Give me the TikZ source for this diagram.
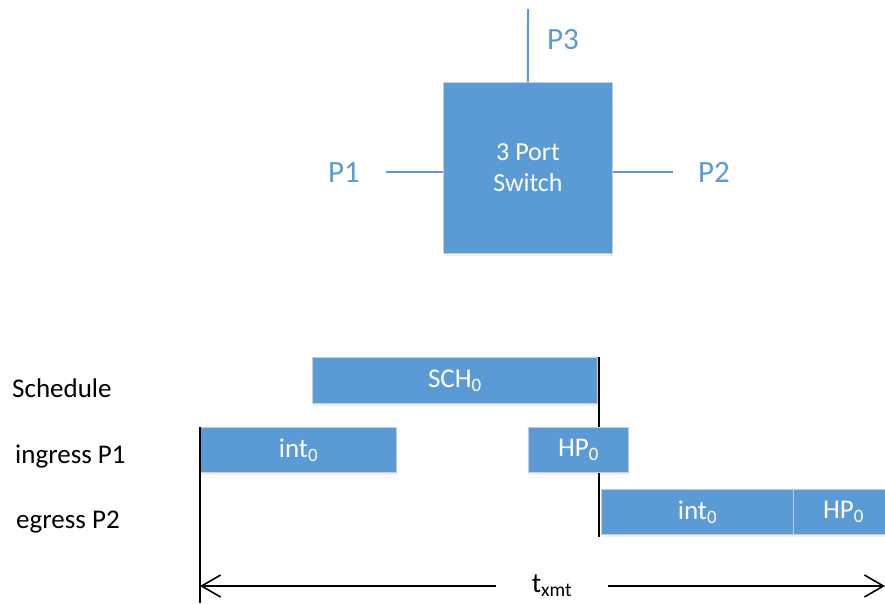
\documentclass[tikz,border=0pt]{standalone}
\usepackage{fontspec}
\setmainfont{Carlito}
\usetikzlibrary{positioning,arrows.meta,shadows}
\definecolor{swblue}{HTML}{5B9BD5}
\definecolor{rim}{HTML}{C8CDD3}
\tikzset{
  blk/.style    ={draw=rim, fill=swblue, line width=0.9pt, text=white, anchor=north west,
                  inner sep=0pt, font=\fontsize{27}{30}\selectfont,
                  drop shadow={opacity=0.12,shadow xshift=1pt,shadow yshift=-2.5pt}},
  switchbox/.style={blk, align=center, font=\fontsize{26}{31}\selectfont},
  port/.style   ={draw=swblue, line width=2pt},
  portlbl/.style={text=swblue, anchor=base west, inner sep=0pt, font=\fontsize{31}{34}\selectfont},
  rowlbl/.style ={anchor=base west, inner sep=0pt, font=\fontsize{27}{30}\selectfont},
  tick/.style   ={line width=1.6pt},
  spanarr/.style={line width=1.6pt, -{Straight Barb[length=19pt,width=22pt,line width=1.6pt]}},
}

\begin{document}
\begin{tikzpicture}[x=1pt,y=-1pt]
\useasboundingbox (0,0) rectangle (885,603);
% switch with its three ports
\node[switchbox, minimum width=169pt, minimum height=171pt] (sw) at (443,82) {3 Port\\Switch};
\coordinate (p1end) at (386,172);
\coordinate (p2end) at (673,172);
\coordinate (p3end) at (528,9);
\draw[port] (p1end) -- (p1end -| sw.west);
\draw[port] (sw.east |- p2end) -- (p2end);
\draw[port] (sw.north) -- (p3end);
\node[portlbl] (p1) at (328,182) {P1};
\node[portlbl] (p2) at (698,182) {P2};
\node[portlbl] (p3) at (547,49) {P3};
% timeline rows
\coordinate (cuttop) at (599,357);
\coordinate (cutbot) at (599,537);
\draw[tick] (cuttop) -- (cutbot);
\node[rowlbl] (lsch) at (12,397) {Schedule};
\node[rowlbl] (ling) at (15,463) {ingress P1};
\node[rowlbl] (legr) at (16,528) {egress P2};
\node[blk, minimum width=285pt, minimum height=46pt] (sch) at (312,357) {SCH\textsubscript{0}};
\node[blk, minimum width=196pt, minimum height=45pt] (iint) at (200,427) {int\textsubscript{0}};
\node[blk, minimum width=100pt, minimum height=45pt] (ihp) at (528,427) {HP\textsubscript{0}};
\node[blk, minimum width=192pt, minimum height=45pt] (eint) at (601,489) {int\textsubscript{0}};
\node[blk, minimum width=100pt, minimum height=45pt] (ehp) at (793,489) {HP\textsubscript{0}};
% start marker and span
\coordinate (starttop) at (200,427);
\coordinate (startbot) at (200,603);
\coordinate (spanl) at (200,586);
\coordinate (spanr) at (885,586);
\draw[tick] (starttop) -- (startbot);
\node[inner sep=0pt, minimum width=111pt, minimum height=30pt, font=\fontsize{28}{30}\selectfont] (txmt) at (552,586) {t\textsubscript{xmt}};
\draw[spanarr] (txmt.west) -- (spanl);
\draw[spanarr] (txmt.east) -- (spanr);
\end{tikzpicture}
\end{document}
